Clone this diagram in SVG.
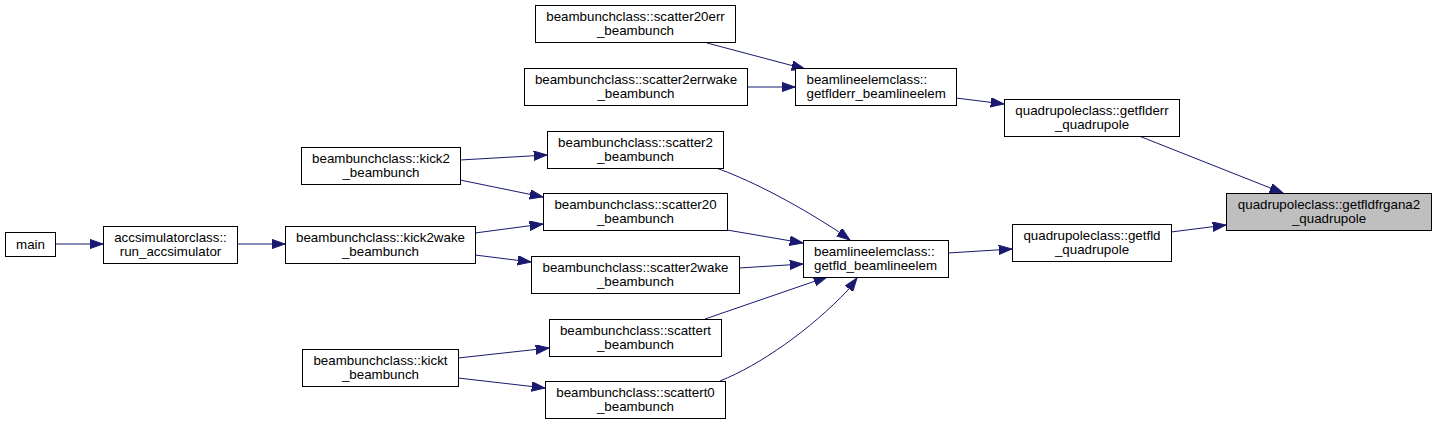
<svg xmlns="http://www.w3.org/2000/svg" width="1436" height="425" viewBox="0 0 1436 425">
<defs>
<marker id="ah" markerUnits="userSpaceOnUse" markerWidth="14" markerHeight="10" refX="13.3" refY="4.7" orient="auto">
<path d="M0,0 L13.3,4.7 L0,9.4 Z" fill="#191970" stroke="#191970" stroke-width="1"/>
</marker>
<style>
.n rect{fill:#ffffff;stroke:#000000;stroke-width:1}
.n.focus rect{fill:#bfbfbf}
.n text{font-family:"Liberation Sans",Arial,Helvetica,sans-serif;font-size:13.33px;fill:#000000;text-anchor:middle}
.n text.l{text-anchor:start}
#edges path{fill:none;stroke:#191970;stroke-width:1;marker-end:url(#ah)}
</style>
</defs>
<rect width="1436" height="425" fill="#ffffff"/>
<g id="edges">
<path d="M55,244 L103,244"/>
<path d="M237,244 L285,244"/>
<path d="M460,160 L547,155"/>
<path d="M460,180 L543,197"/>
<path d="M475,233 L543,224"/>
<path d="M475,255 L531,262"/>
<path d="M458,358 L549,348"/>
<path d="M458,378 L545,388"/>
<path d="M707,43 L805,69"/>
<path d="M747,87 L795,87"/>
<path d="M956,98 L1004,104"/>
<path d="M1139,136 L1283,193"/>
<path d="M1171,232 L1226,225"/>
<path d="M948,253 L1012,249"/>
<path d="M716,168 C745,178 790,200 839,232 L850,240"/>
<path d="M727,230 L803,243"/>
<path d="M739,268 L803,264"/>
<path d="M705,319 L827,277"/>
<path d="M720,381 C760,365 810,330 848,290 L857,278"/>
</g>
<g id="main" class="n"><rect x="5.5" y="232.5" width="50" height="24"/><text x="30.5" y="249">main</text></g>
<g id="run_accsimulator" class="n"><rect x="103.5" y="226.5" width="134" height="37"/><text x="170.5" y="242">accsimulatorclass::</text><text x="170.5" y="255.5">run_accsimulator</text></g>
<g id="kick2wake" class="n"><rect x="285.5" y="226.5" width="190" height="37"/><text x="380.5" y="242">beambunchclass::kick2wake</text><text x="380.5" y="255.5">_beambunch</text></g>
<g id="kick2" class="n"><rect x="301.5" y="147.5" width="159" height="37"/><text x="381" y="163">beambunchclass::kick2</text><text x="381" y="176.5">_beambunch</text></g>
<g id="kickt" class="n"><rect x="302.5" y="349.5" width="156" height="37"/><text x="380.5" y="365">beambunchclass::kickt</text><text x="380.5" y="378.5">_beambunch</text></g>
<g id="scatter20err" class="n"><rect x="535.5" y="5.5" width="200" height="37"/><text x="635.5" y="21">beambunchclass::scatter20err</text><text x="635.5" y="34.5">_beambunch</text></g>
<g id="scatter2errwake" class="n"><rect x="524.5" y="68.5" width="223" height="37"/><text x="636" y="84">beambunchclass::scatter2errwake</text><text x="636" y="97.5">_beambunch</text></g>
<g id="getflderr_beamlineelem" class="n"><rect x="795.5" y="68.5" width="161" height="37"/><text class="l" x="806.5" y="84">beamlineelemclass::</text><text class="l" x="806.5" y="97.5">getflderr_beamlineelem</text></g>
<g id="scatter2" class="n"><rect x="547.5" y="131.5" width="176" height="37"/><text x="635.5" y="147">beambunchclass::scatter2</text><text x="635.5" y="160.5">_beambunch</text></g>
<g id="scatter20" class="n"><rect x="543.5" y="193.5" width="184" height="37"/><text x="635.5" y="209">beambunchclass::scatter20</text><text x="635.5" y="222.5">_beambunch</text></g>
<g id="scatter2wake" class="n"><rect x="531.5" y="256.5" width="208" height="37"/><text x="635.5" y="272">beambunchclass::scatter2wake</text><text x="635.5" y="285.5">_beambunch</text></g>
<g id="getfld_beamlineelem" class="n"><rect x="803.5" y="240.5" width="145" height="37"/><text class="l" x="814" y="256">beamlineelemclass::</text><text class="l" x="814" y="269.5">getfld_beamlineelem</text></g>
<g id="scattert" class="n"><rect x="549.5" y="319.5" width="172" height="37"/><text x="635.5" y="335">beambunchclass::scattert</text><text x="635.5" y="348.5">_beambunch</text></g>
<g id="scattert0" class="n"><rect x="545.5" y="381.5" width="180" height="37"/><text x="635.5" y="397">beambunchclass::scattert0</text><text x="635.5" y="410.5">_beambunch</text></g>
<g id="getflderr_quadrupole" class="n"><rect x="1004.5" y="99.5" width="175" height="37"/><text x="1092" y="115">quadrupoleclass::getflderr</text><text x="1092" y="128.5">_quadrupole</text></g>
<g id="getfld_quadrupole" class="n"><rect x="1012.5" y="224.5" width="159" height="37"/><text x="1092" y="240">quadrupoleclass::getfld</text><text x="1092" y="253.5">_quadrupole</text></g>
<g id="getfldfrgana2_quadrupole" class="n focus"><rect x="1226.5" y="193.5" width="205" height="37"/><text x="1329" y="209">quadrupoleclass::getfldfrgana2</text><text x="1329" y="222.5">_quadrupole</text></g>
</svg>
